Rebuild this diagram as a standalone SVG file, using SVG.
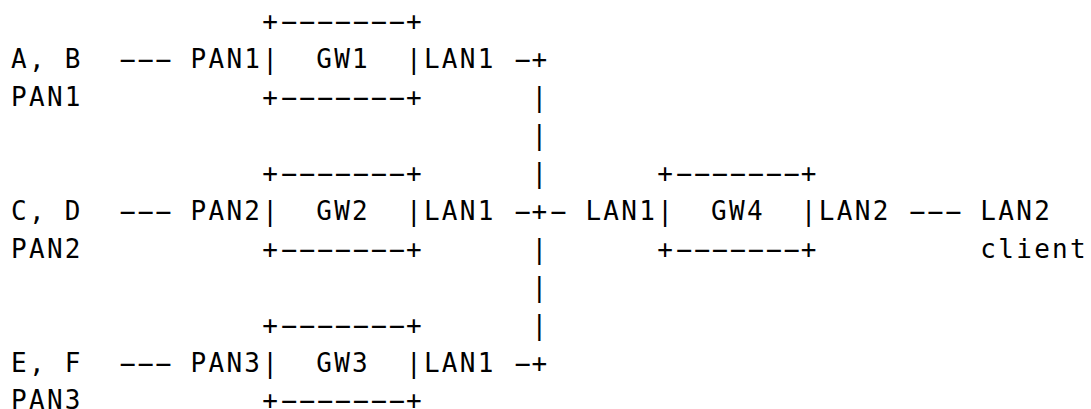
<svg xmlns="http://www.w3.org/2000/svg" width="1091" height="409" viewBox="0 0 1091 409" xml:space="preserve">
  <style>
    text { font-family: "DejaVu Sans Mono", "Liberation Mono", monospace; font-size: 26px; letter-spacing: 2.3px; fill: #000; white-space: pre; }
    /* dash runs: glyphs widened 2.1x, advance kept at one grid cell (17.95px) */
    text.d { letter-spacing: -7.105px; }
  </style>
  <rect width="1091" height="409" fill="#fff"/>

  <!-- character grid: column c at x = 11 + 17.95*c, row r baseline at y = 30.4 + 37.9*r -->

  <g id="hosts-ab">
    <text x="11" y="68.3">A, B</text>
    <text x="11" y="106.2">PAN1</text>
  </g>
  <g id="hosts-cd">
    <text x="11" y="219.9">C, D</text>
    <text x="11" y="257.8">PAN2</text>
  </g>
  <g id="hosts-ef">
    <text x="11" y="371.5">E, F</text>
    <text x="11" y="409.4">PAN3</text>
  </g>

  <g id="gw1">
    <text x="262.3" y="30.4">+</text>
    <text class="d" transform="translate(272.79,30.4) scale(2.1,1)">-------</text>
    <text x="405.9" y="30.4">+</text>
    <text x="190.5" y="68.3">PAN1|  GW1  |LAN1</text>
    <text x="262.3" y="106.2">+</text>
    <text class="d" transform="translate(272.79,106.2) scale(2.1,1)">-------</text>
    <text x="405.9" y="106.2">+</text>
  </g>
  <g id="gw2">
    <text x="262.3" y="182">+</text>
    <text class="d" transform="translate(272.79,182) scale(2.1,1)">-------</text>
    <text x="405.9" y="182">+</text>
    <text x="190.5" y="219.9">PAN2|  GW2  |LAN1</text>
    <text x="262.3" y="257.8">+</text>
    <text class="d" transform="translate(272.79,257.8) scale(2.1,1)">-------</text>
    <text x="405.9" y="257.8">+</text>
  </g>
  <g id="gw3">
    <text x="262.3" y="333.6">+</text>
    <text class="d" transform="translate(272.79,333.6) scale(2.1,1)">-------</text>
    <text x="405.9" y="333.6">+</text>
    <text x="190.5" y="371.5">PAN3|  GW3  |LAN1</text>
    <text x="262.3" y="409.4">+</text>
    <text class="d" transform="translate(272.79,409.4) scale(2.1,1)">-------</text>
    <text x="405.9" y="409.4">+</text>
  </g>
  <g id="gw4">
    <text x="657.2" y="182">+</text>
    <text class="d" transform="translate(667.69,182) scale(2.1,1)">-------</text>
    <text x="800.8" y="182">+</text>
    <text x="585.4" y="219.9">LAN1|  GW4  |LAN2</text>
    <text x="657.2" y="257.8">+</text>
    <text class="d" transform="translate(667.69,257.8) scale(2.1,1)">-------</text>
    <text x="800.8" y="257.8">+</text>
  </g>
  <g id="lan2-client">
    <text x="980.3" y="219.9">LAN2</text>
    <text x="980.3" y="257.8">client</text>
  </g>

  <g id="connectors">
    <text class="d" transform="translate(111.24,68.3) scale(2.1,1)">---</text>
    <text class="d" transform="translate(111.24,219.9) scale(2.1,1)">---</text>
    <text class="d" transform="translate(111.24,371.5) scale(2.1,1)">---</text>

    <text class="d" transform="translate(506.14,68.3) scale(2.1,1)">-</text>
    <text x="531.55" y="68.3">+</text>
    <text x="531.55" y="106.2">|</text>
    <text x="531.55" y="144.1">|</text>
    <text x="531.55" y="182">|</text>
    <text class="d" transform="translate(506.14,219.9) scale(2.1,1)">-</text>
    <text x="531.55" y="219.9">+</text>
    <text class="d" transform="translate(542.04,219.9) scale(2.1,1)">-</text>
    <text x="531.55" y="257.8">|</text>
    <text x="531.55" y="295.7">|</text>
    <text x="531.55" y="333.6">|</text>
    <text class="d" transform="translate(506.14,371.5) scale(2.1,1)">-</text>
    <text x="531.55" y="371.5">+</text>

    <text class="d" transform="translate(901.04,219.9) scale(2.1,1)">---</text>
  </g>
</svg>
